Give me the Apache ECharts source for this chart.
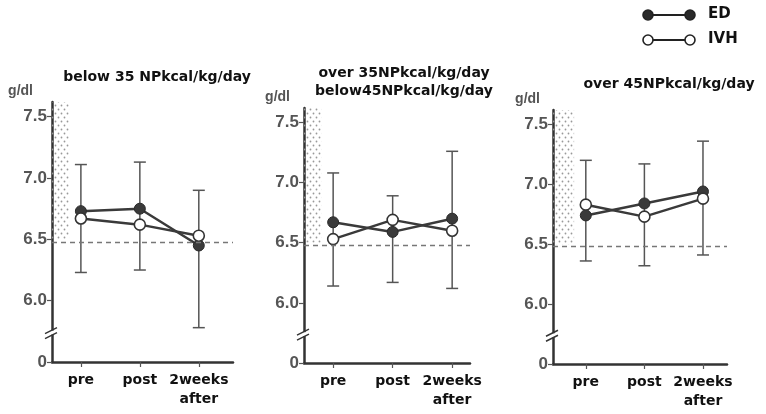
<!DOCTYPE html>
<html>
<head>
<meta charset="utf-8">
<script src="https://cdn.jsdelivr.net/npm/echarts@6/dist/echarts.min.js"></script>
<style>
html, body { margin: 0; padding: 0; background: #fff; }
#main { width: 766px; height: 414px; }
</style>
</head>
<body>
<div id="main"></div>
<script>
// categories and titles
var categories = ['pre', 'post', '2weeks\nafter'];
var titles = ['below 35 NPkcal/kg/day', 'over 35NPkcal/kg/day\nbelow45NPkcal/kg/day', 'over 45NPkcal/kg/day'];
var yTicks = [5.5, 6.0, 6.5, 7.0, 7.5];
var yTickLabels = ['0', '6.0', '6.5', '7.0', '7.5'];
var refLine = 6.48;     // dashed line
var normalLow = 6.5;    // dotted normal range, from 6.5 up
var breakAt = 5.74;     // axis break between 0 and 6.0

// below 35
var ed1 = [6.73, 6.75, 6.45];
var ivh1 = [6.67, 6.62, 6.53];
var sdHi1 = [7.11, 7.13, 6.90];
var sdLo1 = [6.23, 6.25, 5.78];
// 35 - 45
var ed2 = [6.67, 6.59, 6.70];
var ivh2 = [6.53, 6.69, 6.60];
var sdHi2 = [7.08, 6.89, 7.26];
var sdLo2 = [6.14, 6.17, 6.12];
// over 45
var ed3 = [6.74, 6.84, 6.94];
var ivh3 = [6.83, 6.73, 6.88];
var sdHi3 = [7.20, 7.17, 7.36];
var sdLo3 = [6.36, 6.32, 6.41];

var edAll = [ed1, ed2, ed3];
var ivhAll = [ivh1, ivh2, ivh3];
var hiAll = [sdHi1, sdHi2, sdHi3];
var loAll = [sdLo1, sdLo2, sdLo3];

var FONT = 'Liberation Sans';
var WIDE = 'DejaVu Sans';
var INK = '#333';

// panel layout
var grids = [
  { left: 52, top: 102, width: 181, height: 260 },
  { left: 304, top: 108, width: 166, height: 255 },
  { left: 553, top: 110, width: 174, height: 254 }
];
var xMin = [-0.49, -0.49, -0.56];
var xMax = [2.58, 2.30, 2.41];
var titlePos = [[152, 63], [399, 59], [664, 70]];
var gdlGap = [19, 14, 13];

// dotted fill
var dots = document.createElement('canvas');
dots.width = 6; dots.height = 8;
var ctx = dots.getContext('2d');
ctx.fillStyle = '#999';
ctx.beginPath(); ctx.arc(1.5, 1.5, 0.9, 0, Math.PI * 2); ctx.fill();
ctx.beginPath(); ctx.arc(4.5, 5.5, 0.9, 0, Math.PI * 2); ctx.fill();

function errRender(params, api) {
  var x = api.value(0);
  var hi = api.coord([x, api.value(1)]);
  var lo = api.coord([x, api.value(2)]);
  var w = 6;
  var st = { stroke: '#555', lineWidth: 1.5 };
  return {
    type: 'group',
    children: [
      { type: 'line', shape: { x1: hi[0], y1: hi[1], x2: lo[0], y2: lo[1] }, style: st },
      { type: 'line', shape: { x1: hi[0] - w, y1: hi[1], x2: hi[0] + w, y2: hi[1] }, style: st },
      { type: 'line', shape: { x1: lo[0] - w, y1: lo[1], x2: lo[0] + w, y2: lo[1] }, style: st }
    ]
  };
}

function breakRender(params, api) {
  var p = api.coord([api.value(0), api.value(1)]);
  var st = { stroke: INK, lineWidth: 1.5 };
  return {
    type: 'group',
    children: [
      { type: 'rect', shape: { x: p[0] - 3, y: p[1] - 2, width: 6, height: 4 }, style: { fill: '#fff' } },
      { type: 'line', shape: { x1: p[0] - 7, y1: p[1] + 1, x2: p[0] + 5, y2: p[1] - 5 }, style: st },
      { type: 'line', shape: { x1: p[0] - 7, y1: p[1] + 6, x2: p[0] + 5, y2: p[1] }, style: st }
    ]
  };
}

var title = [], grid = [], xAxis = [], yAxis = [], series = [];

for (var i = 0; i < 3; i++) {
  title.push({
    text: titles[i],
    left: titlePos[i][0],
    top: titlePos[i][1],
    textAlign: 'center',
    textStyle: { fontFamily: WIDE, fontSize: 14, fontWeight: 'bold', color: '#111', lineHeight: 18 }
  });
  grid.push(grids[i]);
  xAxis.push({
    type: 'value',
    gridIndex: i,
    min: xMin[i],
    max: xMax[i],
    splitLine: { show: false },
    axisLine: { onZero: false, lineStyle: { color: INK, width: 2.5 } },
    axisTick: { customValues: [0, 1, 2], length: 5, lineStyle: { color: '#555', width: 1.2 } },
    axisLabel: {
      customValues: [0, 1, 2],
      formatter: function (v) { return categories[Math.round(v)]; },
      margin: 9,
      fontFamily: WIDE, fontSize: 14, fontWeight: 'bold', color: '#111', lineHeight: 19
    }
  });
  yAxis.push({
    type: 'value',
    gridIndex: i,
    min: 5.5,
    max: 7.62,
    name: 'g/dl',
    nameLocation: 'end',
    nameGap: 4,
    nameTextStyle: { fontFamily: FONT, fontSize: 14, fontWeight: 'bold', color: '#555', align: 'right', padding: [0, gdlGap[i], 0, 0] },
    splitLine: { show: false },
    axisLine: { onZero: false, lineStyle: { color: INK, width: 2.5 } },
    axisTick: { customValues: yTicks, length: 5, lineStyle: { color: '#555', width: 1.2 } },
    axisLabel: {
      customValues: yTicks,
      formatter: function (v) { return yTickLabels[yTicks.indexOf(v)]; },
      margin: 5,
      fontFamily: FONT, fontSize: 17, fontWeight: 'bold', color: '#555'
    }
  });

  series.push({
    name: 'SD',
    type: 'custom',
    xAxisIndex: i, yAxisIndex: i,
    renderItem: errRender,
    clip: false,
    z: 1,
    data: [0, 1, 2].map(function (k) { return [k, hiAll[i][k], loAll[i][k]]; })
  });
  series.push({
    name: 'ED',
    type: 'line',
    xAxisIndex: i, yAxisIndex: i,
    data: edAll[i].map(function (v, k) { return [k, v]; }),
    symbol: 'circle', symbolSize: 11,
    lineStyle: { color: '#3a3a3a', width: 2.5 },
    itemStyle: { color: '#3a3a3a', borderColor: '#2a2a2a', borderWidth: 1 },
    z: 3,
    markLine: {
      silent: true, symbol: 'none',
      label: { show: false },
      lineStyle: { color: '#777', type: [5, 4], width: 1.3 },
      data: [{ yAxis: refLine }]
    },
    markArea: {
      silent: true,
      itemStyle: { color: { image: dots, repeat: 'repeat' } },
      data: [[{ xAxis: xMin[i], yAxis: normalLow }, { xAxis: -0.2, yAxis: 7.62 }]]
    }
  });
  series.push({
    name: 'IVH',
    type: 'line',
    xAxisIndex: i, yAxisIndex: i,
    data: ivhAll[i].map(function (v, k) { return [k, v]; }),
    symbol: 'circle', symbolSize: 11,
    lineStyle: { color: '#3a3a3a', width: 2.5 },
    itemStyle: { color: '#fff', borderColor: '#333', borderWidth: 1.6 },
    z: 4
  });
  series.push({
    name: 'break',
    type: 'custom',
    xAxisIndex: i, yAxisIndex: i,
    renderItem: breakRender,
    clip: false,
    silent: true,
    z: 5,
    data: [[xMin[i], breakAt]]
  });
}

// legend drawn by hand: line with markers at both ends
var legendRows = [
  { name: 'ED', y: 15, fill: '#2a2a2a' },
  { name: 'IVH', y: 40, fill: '#fff' }
];
var graphic = [];
legendRows.forEach(function (r) {
  graphic.push({ type: 'line', shape: { x1: 648, y1: r.y, x2: 690, y2: r.y }, style: { stroke: '#222', lineWidth: 2 } });
  graphic.push({ type: 'circle', shape: { cx: 648, cy: r.y, r: 5 }, style: { fill: r.fill, stroke: '#222', lineWidth: 1.6 } });
  graphic.push({ type: 'circle', shape: { cx: 690, cy: r.y, r: 5 }, style: { fill: r.fill, stroke: '#222', lineWidth: 1.6 } });
  graphic.push({ type: 'text', left: 708, top: r.y - 8, style: { text: r.name, font: 'bold 15px ' + WIDE, fill: '#111' } });
});

var chart = echarts.init(document.getElementById('main'));
chart.setOption({
  animation: false,
  backgroundColor: '#fff',
  title: title,
  grid: grid,
  xAxis: xAxis,
  yAxis: yAxis,
  series: series,
  graphic: graphic
});
</script>
</body>
</html>
